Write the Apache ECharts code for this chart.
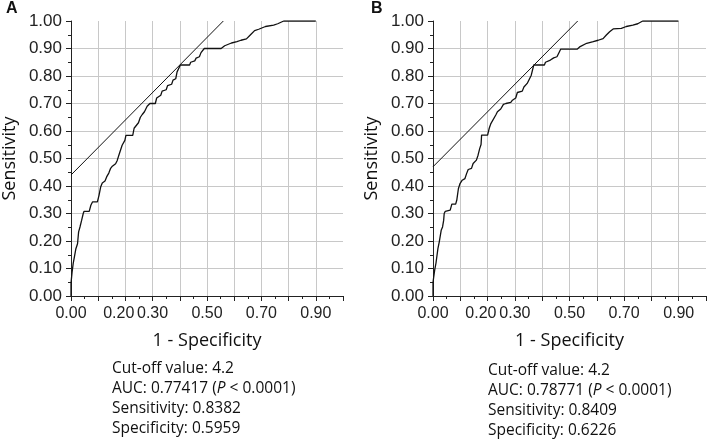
<!DOCTYPE html>
<html>
<head>
<meta charset="utf-8">
<script src="https://cdn.jsdelivr.net/npm/echarts@6/dist/echarts.min.js"></script>
<style>
  html, body { margin: 0; padding: 0; background: #fff; }
  #main { width: 709px; height: 442px; }
</style>
</head>
<body>
<div id="main"></div>
<script>
// ROC curve A (1 - specificity, sensitivity)
var rocA = [[0, 0], [0, 0.047], [0.004, 0.047], [0.004, 0.087], [0.008, 0.087], [0.008, 0.118],
    [0.015, 0.118], [0.018, 0.172], [0.024, 0.19], [0.028, 0.233], [0.033, 0.251], [0.039, 0.275],
    [0.045, 0.30], [0.048, 0.308], [0.067, 0.308], [0.073, 0.33], [0.079, 0.342], [0.097, 0.342],
    [0.103, 0.366], [0.109, 0.396], [0.115, 0.411], [0.125, 0.418], [0.131, 0.433], [0.139, 0.447],
    [0.145, 0.463], [0.152, 0.472], [0.164, 0.481], [0.17, 0.493], [0.178, 0.518], [0.188, 0.548],
    [0.198, 0.566], [0.202, 0.584], [0.227, 0.584], [0.232, 0.61], [0.24, 0.62], [0.248, 0.63],
    [0.255, 0.65], [0.262, 0.66], [0.27, 0.67], [0.28, 0.69], [0.29, 0.70], [0.31, 0.70],
    [0.315, 0.72], [0.33, 0.73], [0.335, 0.745], [0.35, 0.75], [0.355, 0.765], [0.37, 0.77],
    [0.375, 0.785], [0.385, 0.79], [0.39, 0.815], [0.402, 0.84], [0.436, 0.84], [0.44, 0.85],
    [0.455, 0.855], [0.46, 0.865], [0.472, 0.87], [0.478, 0.885], [0.49, 0.90], [0.552, 0.90],
    [0.565, 0.91], [0.59, 0.92], [0.61, 0.925], [0.625, 0.93], [0.645, 0.935], [0.66, 0.95],
    [0.675, 0.965], [0.69, 0.97], [0.715, 0.98], [0.745, 0.985], [0.76, 0.99], [0.782, 1.0], [0.9, 1.0]];

// ROC curve B
var rocB = [[0, 0], [0, 0.05], [0.006, 0.05], [0.006, 0.093], [0.011, 0.093], [0.011, 0.12],
    [0.018, 0.12], [0.018, 0.172], [0.023, 0.172], [0.023, 0.197], [0.027, 0.203], [0.03, 0.239],
    [0.035, 0.251], [0.039, 0.275], [0.041, 0.30], [0.045, 0.308], [0.047, 0.312], [0.063, 0.312],
    [0.069, 0.334], [0.083, 0.334], [0.087, 0.348], [0.093, 0.39], [0.099, 0.409], [0.107, 0.421],
    [0.117, 0.427], [0.123, 0.445], [0.129, 0.46], [0.141, 0.464], [0.147, 0.482], [0.159, 0.494],
    [0.165, 0.512], [0.171, 0.536], [0.176, 0.551], [0.178, 0.585], [0.2, 0.585], [0.206, 0.61],
    [0.212, 0.627], [0.218, 0.634], [0.23, 0.658], [0.236, 0.67], [0.248, 0.68], [0.258, 0.697],
    [0.267, 0.70], [0.285, 0.704], [0.291, 0.712], [0.303, 0.72], [0.309, 0.74], [0.327, 0.745],
    [0.333, 0.76], [0.345, 0.773], [0.351, 0.78], [0.36, 0.803], [0.369, 0.84], [0.408, 0.84],
    [0.412, 0.85], [0.43, 0.858], [0.442, 0.866], [0.454, 0.87], [0.46, 0.882], [0.468, 0.898],
    [0.529, 0.898], [0.539, 0.907], [0.563, 0.919], [0.587, 0.925], [0.605, 0.93], [0.623, 0.936],
    [0.635, 0.949], [0.647, 0.961], [0.66, 0.971], [0.69, 0.973], [0.708, 0.98], [0.732, 0.985],
    [0.75, 0.99], [0.768, 1.0], [0.899, 1.0]];

// tangent lines at the cut-off point
var tangentA = [[0, 0.44], [0.56, 1.0]];
var tangentB = [[0, 0.47], [0.53, 1.0]];

// x tick labels that are printed
var xTickLabels = ['0.00', '0.20', '0.30', '0.50', '0.70', '0.90'];

var statsA = ['Cut-off value: 4.2', 'AUC: 0.77417 ({i|P} < 0.0001)', 'Sensitivity: 0.8382', 'Specificity: 0.5959'];
var statsB = ['Cut-off value: 4.2', 'AUC: 0.78771 ({i|P} < 0.0001)', 'Sensitivity: 0.8409', 'Specificity: 0.6226'];

var tickFont = 'Liberation Sans';
var textFont = 'Open Sans';

function makeX(idx) {
    return {
        type: 'value', gridIndex: idx, min: 0, max: 1, interval: 0.1,
        name: '1 - Specificity', nameLocation: 'middle', nameGap: 36,
        nameTextStyle: {fontFamily: textFont, fontSize: 18, color: '#111'},
        axisLine: {show: true, onZero: false, lineStyle: {color: '#222', width: 1}},
        axisTick: {show: true, length: 5, lineStyle: {color: '#222'}},
        minorTick: {show: true, splitNumber: 2, length: 3, lineStyle: {color: '#222'}},
        axisLabel: {
            margin: 10, fontFamily: tickFont, fontSize: 16, color: '#222',
            formatter: function (v) {
                var s = v.toFixed(2);
                if (xTickLabels.indexOf(s) < 0) return '';
                // the printed 0.20 sits a little left of its tick
                return s === '0.20' ? s + '\u00a0\u00a0\u00a0' : s;
            }
        },
        splitLine: {show: true, showMinLine: false, showMaxLine: false, lineStyle: {color: '#c8c8c8', width: 1}}
    };
}

function makeY(idx) {
    return {
        type: 'value', gridIndex: idx, min: 0, max: 1, interval: 0.1,
        name: 'Sensitivity', nameLocation: 'middle', nameGap: 52,
        nameTextStyle: {fontFamily: textFont, fontSize: 18, color: '#111'},
        axisLine: {show: true, onZero: false, lineStyle: {color: '#222', width: 1}},
        axisTick: {show: true, length: 5, lineStyle: {color: '#222'}},
        minorTick: {show: true, splitNumber: 2, length: 3, lineStyle: {color: '#222'}},
        axisLabel: {
            margin: 9, fontFamily: tickFont, fontSize: 17, color: '#222',
            formatter: function (v) { return v.toFixed(2); }
        },
        splitLine: {show: true, showMinLine: false, showMaxLine: false, lineStyle: {color: '#c8c8c8', width: 1}}
    };
}

function lineSeries(idx, data, w) {
    return {
        type: 'line', xAxisIndex: idx, yAxisIndex: idx, data: data,
        symbol: 'none', silent: true, animation: false,
        lineStyle: {color: '#111', width: w}
    };
}

function statsText(lines, left, top) {
    var els = [];
    for (var i = 0; i < lines.length; i++) {
        els.push({
            type: 'text', left: left, top: top + i * 19.7,
            style: {
                text: lines[i], fontFamily: textFont, fontSize: 15.5, fill: '#111',
                rich: {i: {fontFamily: textFont, fontSize: 15.5, fontStyle: 'italic', fill: '#111'}}
            }
        });
    }
    return els;
}

var chart = echarts.init(document.getElementById('main'));
var option = {
    backgroundColor: '#fff',
    animation: false,
    grid: [
        {left: 68, top: 21, width: 275, height: 275},
        {left: 433, top: 21, width: 275, height: 275}
    ],
    xAxis: [makeX(0), makeX(1)],
    yAxis: [makeY(0), makeY(1)],
    series: [
        lineSeries(0, rocA, 1.3),
        lineSeries(0, tangentA, 1),
        lineSeries(1, rocB, 1.3),
        lineSeries(1, tangentB, 1)
    ],
    graphic: [
        {type: 'text', left: 6, top: 1, style: {text: 'A', fontFamily: tickFont, fontWeight: 'bold', fontSize: 16, fill: '#111'}},
        {type: 'text', left: 371, top: 1, style: {text: 'B', fontFamily: tickFont, fontWeight: 'bold', fontSize: 16, fill: '#111'}}
    ].concat(statsText(statsA, 112, 361)).concat(statsText(statsB, 488, 363))
};
option && chart.setOption(option);
</script>
</body>
</html>
